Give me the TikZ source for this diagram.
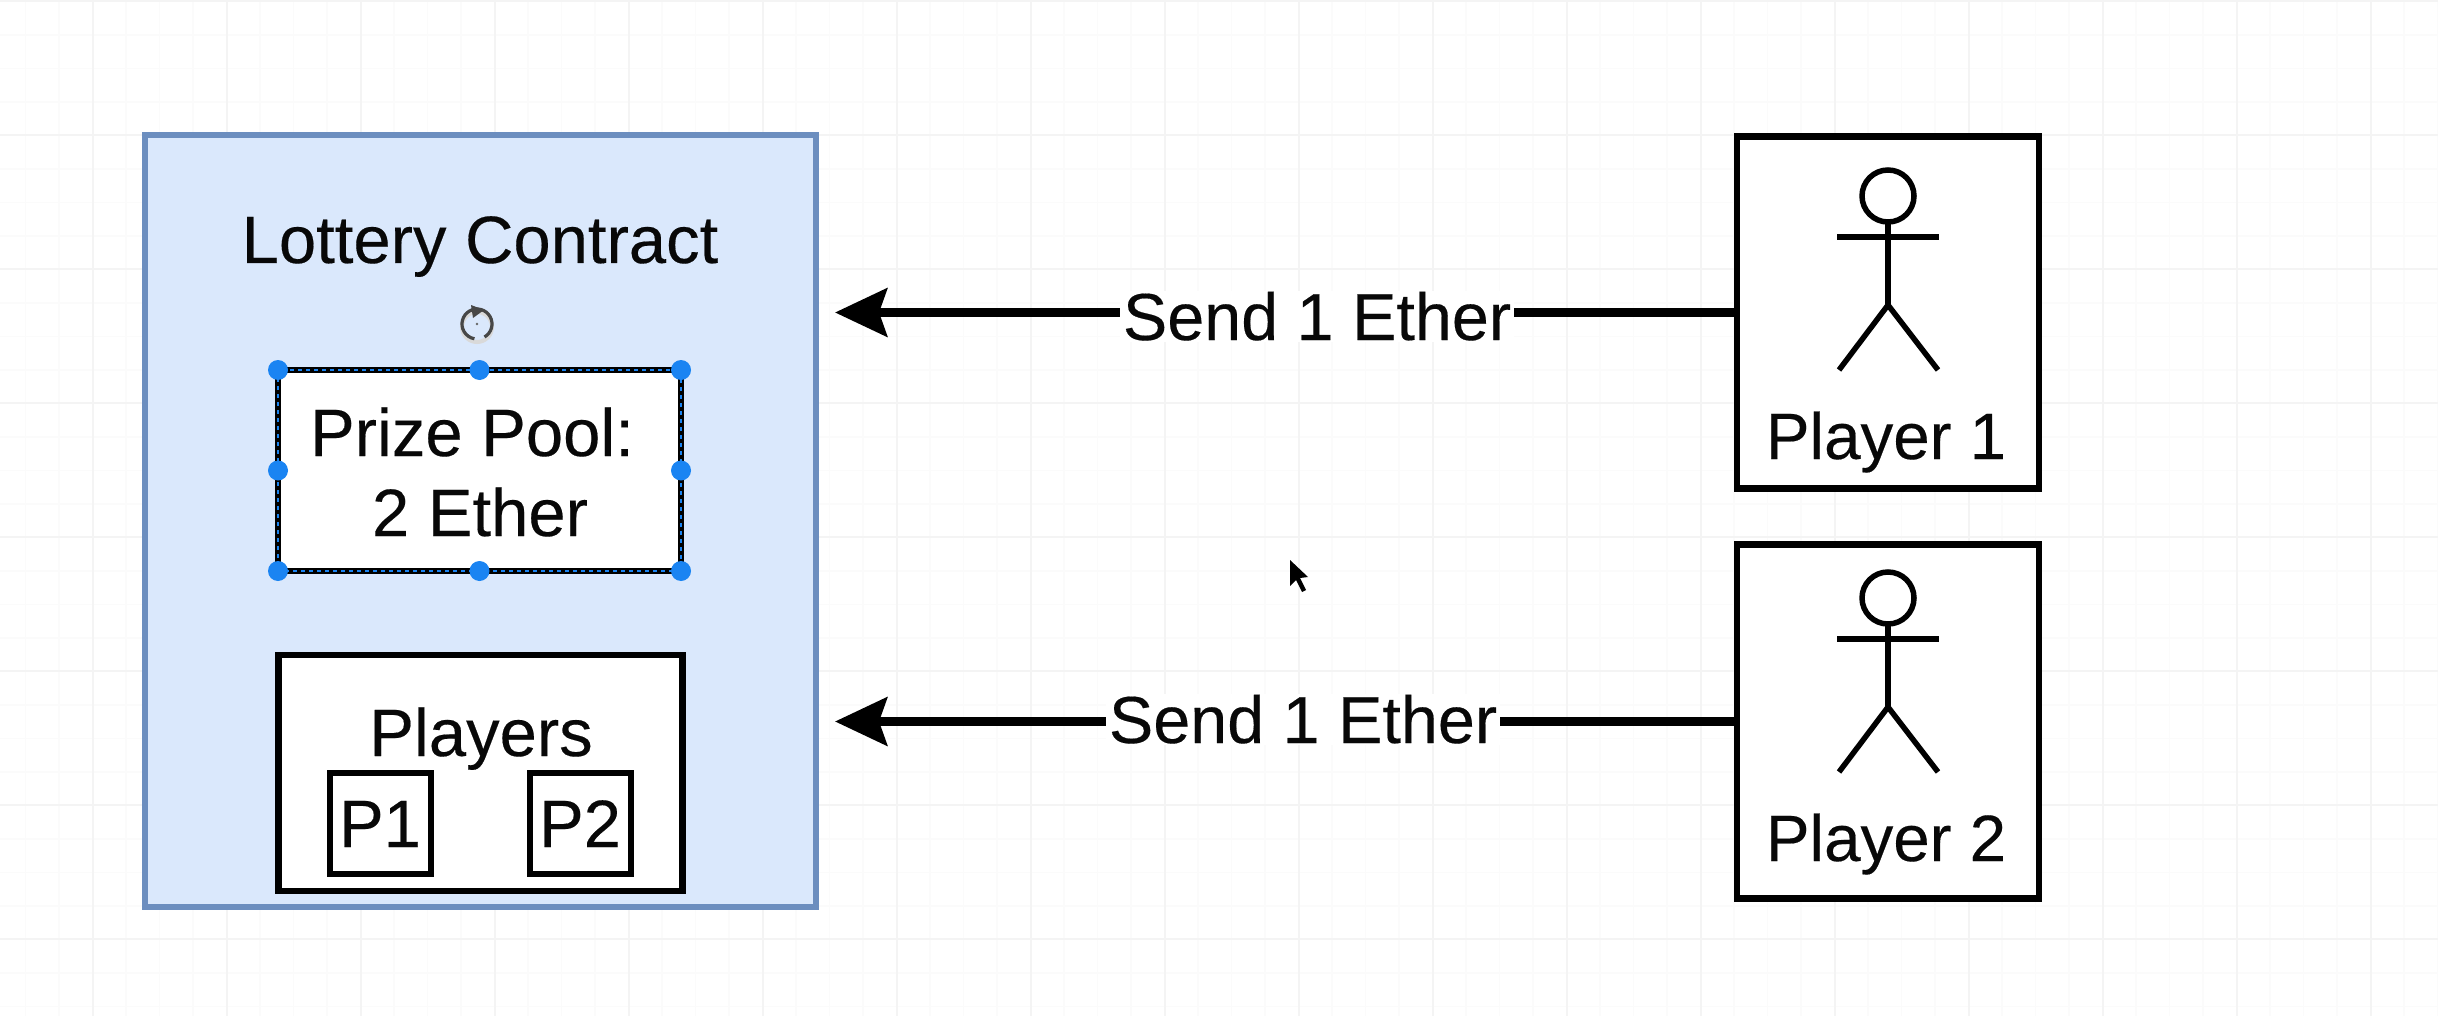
\documentclass[tikz,border=0pt]{standalone}
\usepackage{fontspec}
\setmainfont{Liberation Sans}[FakeBold=0.25]
\usetikzlibrary{arrows.meta}
\definecolor{contractfill}{HTML}{DAE8FC}
\definecolor{contractline}{HTML}{6C8EBF}
\definecolor{handleblue}{HTML}{1A84F2}
\definecolor{gridmajor}{HTML}{F4F4F4}
\definecolor{gridminor}{HTML}{FBFBFB}
\definecolor{inktext}{HTML}{080808}
\tikzset{
  x=1pt,y=-1pt,
  boxed/.style={draw=black,line width=6.5pt,fill=white,outer sep=0pt,inner sep=0pt},
  contractbox/.style={draw=contractline,line width=6.5pt,fill=contractfill,outer sep=0pt,inner sep=0pt},
  lbl/.style={anchor=base,inner sep=0pt,text=inktext,font=\fontsize{67}{67}\selectfont},
  edgelbl/.style={anchor=base,fill=white,inner xsep=3pt,inner ysep=1pt,text=inktext,font=\fontsize{66.5}{66.5}\selectfont},
  sendarrow/.style={line width=9pt,-{Stealth[length=52pt,width=48pt,inset=8pt]}},
  handle/.style={circle,fill=handleblue,inner sep=0pt,minimum size=20pt},
  stick/.style={line width=5.5pt,draw=black},
}
\newcommand{\stickman}[1]{%
  \begin{scope}[yshift=-#1pt]
    \draw[stick] (1888,196) circle[radius=26];
    \draw[stick] (1888,222) -- (1888,305);
    \draw[stick] (1837,237) -- (1939,237);
    \draw[stick] (1839,370) -- (1888,305) -- (1938,370);
  \end{scope}}
\begin{document}
\begin{tikzpicture}
\useasboundingbox (0,0) rectangle (2438,1016);
\fill[white] (0,0) rectangle (2438,1016);
% grid
\foreach \k in {0,...,72} {
  \draw[gridminor,line width=1.2pt] ({25.5+33.5*\k},0) -- ({25.5+33.5*\k},1016);}
\foreach \k in {0,...,30} {
  \draw[gridminor,line width=1.2pt] (0,{1.5+33.5*\k}) -- (2438,{1.5+33.5*\k});}
\foreach \k in {0,...,17} {
  \draw[gridmajor,line width=1.5pt] ({93+134*\k},0) -- ({93+134*\k},1016);}
\foreach \k in {0,...,7} {
  \draw[gridmajor,line width=1.5pt] (0,{1+134*\k}) -- (2438,{1+134*\k});}
% contract
\node[contractbox,minimum width=671pt,minimum height=772pt] (contract) at (480.5,521) {};
\node[lbl] (title) at (480,263) {Lottery Contract};
% prize pool
\node[boxed,minimum width=403pt,minimum height=201pt] (prize) at (479.5,470.5) {};
\draw[handleblue,line width=1.6pt,dash pattern=on 4pt off 4pt] (prize.north west) rectangle (prize.south east);
\node[lbl] (prizeA) at (472,456) {Prize Pool:};
\node[lbl] (prizeB) at (480,536) {2 Ether};
\foreach \a in {north west,north,north east,west,east,south west,south,south east}
  \node[handle] at (prize.\a) {};
% rotate icon
\coordinate (rot) at (477,324);
\draw[black!15,line width=4pt] (477,327) circle[radius=15];
\draw[black!72,line width=3.2pt] (rot) ++(60:15) arc[start angle=60,end angle=-260,radius=15];
\fill[black!72] (471,305) -- (484,310) -- (473,318) -- cycle;
\fill[black!60] (rot) circle[radius=1.3];
% players
\node[boxed,minimum width=404pt,minimum height=236pt] (players) at (480.5,773) {};
\node[lbl] (playersT) at (481,756) {Players};
\node[boxed,minimum width=101pt,minimum height=101pt] (pa) at (380.5,823.5) {};
\node[boxed,minimum width=101pt,minimum height=101pt] (pb) at (580.5,823.5) {};
\node[lbl] (paT) at (380,847) {P1};
\node[lbl] (pbT) at (580,847) {P2};
% actors
\node[boxed,minimum width=302pt,minimum height=352pt] (actorA) at (1888,312.5) {};
\node[boxed,minimum width=302pt,minimum height=354pt] (actorB) at (1888,721.5) {};
\stickman{0}
\stickman{402}
\node[lbl,font=\fontsize{65.5}{65.5}\selectfont] (actorAT) at (1886,459) {Player 1};
\node[lbl,font=\fontsize{65.5}{65.5}\selectfont] (actorBT) at (1886,861) {Player 2};
% arrows
\coordinate (tipA) at (835,312.5);
\coordinate (tipB) at (835,721.5);
\draw[sendarrow] (actorA.west) -- (tipA);
\draw[sendarrow] (actorB.west) -- (tipB);
\node[edgelbl] (sendA) at (1317,340) {Send 1 Ether};
\node[edgelbl] (sendB) at (1303,743) {Send 1 Ether};
% cursor
\fill[black] (1290,560) -- (1290,586) -- (1296,580) -- (1302,592) -- (1306,590) -- (1300,578) -- (1308,577) -- cycle;
\end{tikzpicture}
\end{document}
